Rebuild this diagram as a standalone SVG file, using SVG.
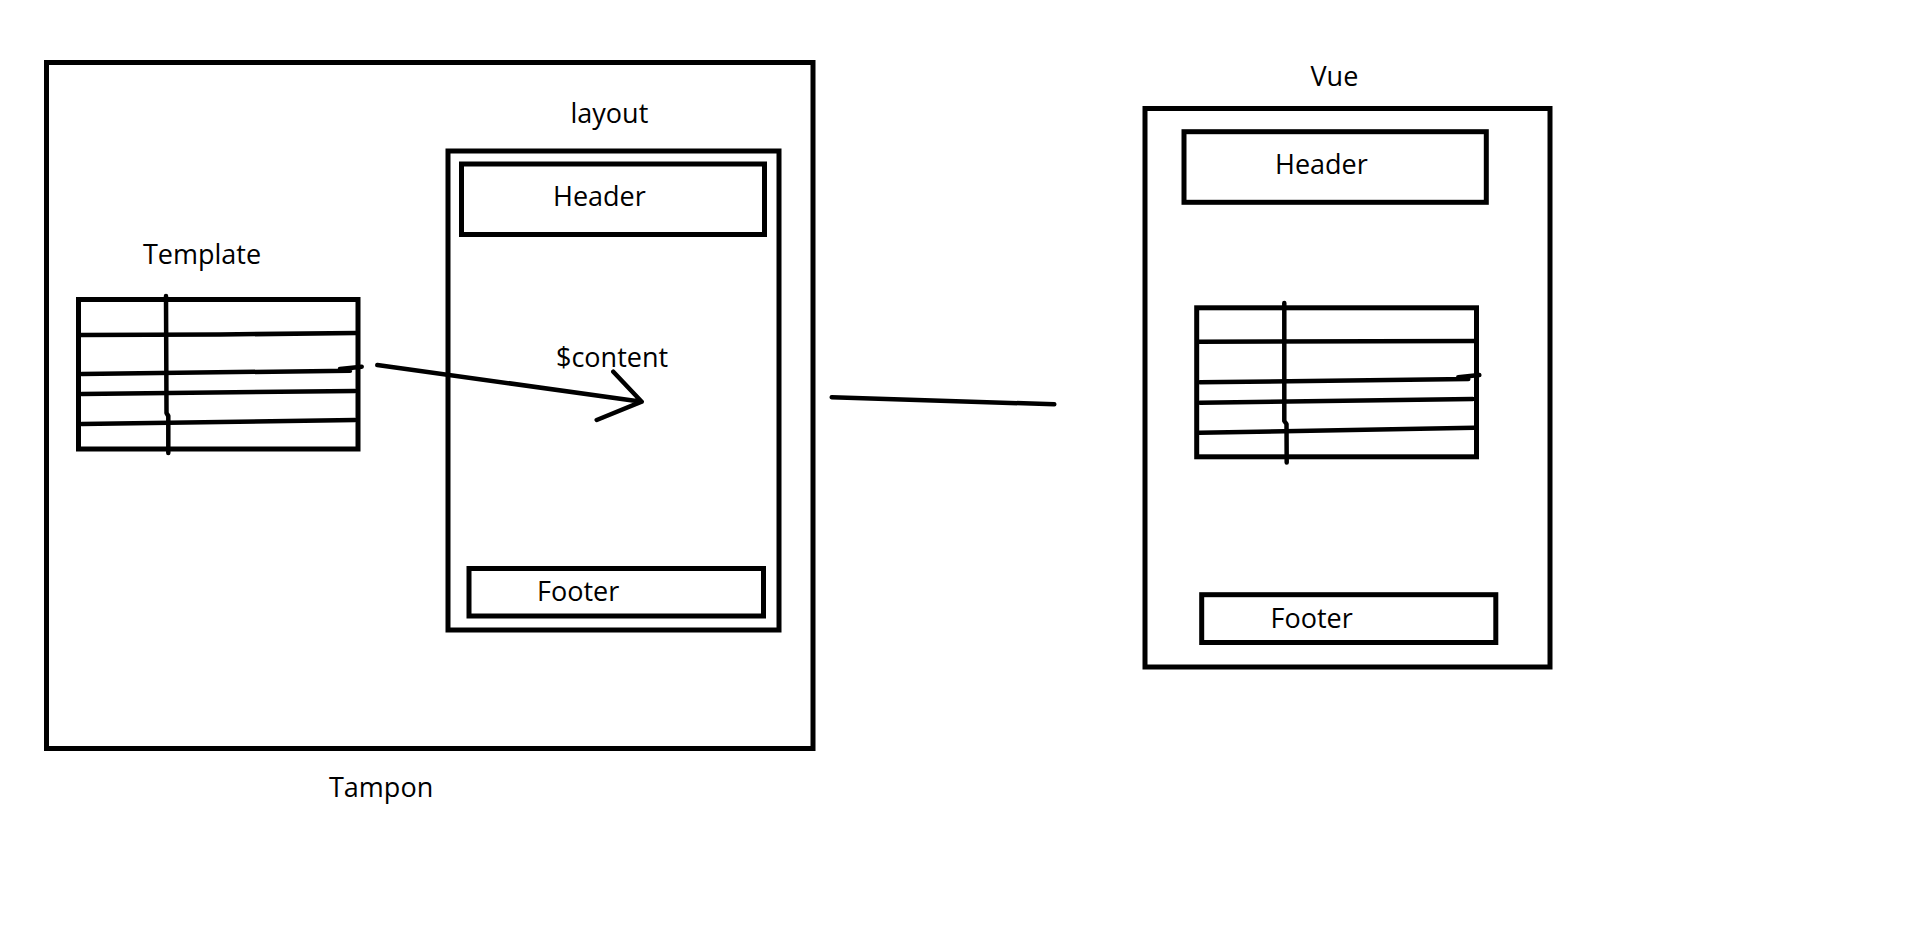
<svg xmlns="http://www.w3.org/2000/svg" width="1912" height="933" viewBox="0 0 1912 933">
  <style>
    .box { fill: none; stroke: #000; stroke-width: 5; }
    .hand { fill: none; stroke: #000; stroke-width: 4.5; stroke-linecap: round; stroke-linejoin: round; }
    .lbl { font-family: "Open Sans", "Noto Sans", "Liberation Sans", sans-serif; font-size: 27px; fill: #000; }
  </style>
  <rect width="1912" height="933" fill="#fff"/>

  <g id="tampon">
    <rect class="box" x="46.5" y="62.5" width="766.5" height="686"/>
    <text class="lbl" x="329" y="797">Tampon</text>
  </g>

  <g id="template">
    <text class="lbl" x="143" y="264">Template</text>
    <rect class="box" x="78.5" y="299.5" width="279.5" height="149.5"/>
    <path class="hand" d="M166 296 L166.5 413 L168.3 416 L168.3 453"/>
    <path class="hand" d="M80 335 L220 334.5 L356 333"/>
    <path class="hand" d="M81.7 374 L350 370.7 M340 369 L361.7 366.7"/>
    <path class="hand" d="M81.7 394 L355 391"/>
    <path class="hand" d="M81.7 424 L355 420"/>
  </g>

  <g id="layout">
    <text class="lbl" x="570.5" y="123">layout</text>
    <rect class="box" x="448" y="151" width="331" height="479"/>
    <g id="layout-header">
      <rect class="box" x="461.5" y="164" width="303" height="70.5"/>
      <text class="lbl" x="553" y="206">Header</text>
    </g>
    <text class="lbl" x="556" y="366.5">$content</text>
    <g id="layout-footer">
      <rect class="box" x="469" y="568.5" width="294.5" height="47.5"/>
      <text class="lbl" x="537" y="601">Footer</text>
    </g>
  </g>

  <g id="vue">
    <text class="lbl" x="1310.5" y="85.5">Vue</text>
    <rect class="box" x="1145" y="108.5" width="405" height="558.5"/>
    <g id="vue-header">
      <rect class="box" x="1184" y="131.7" width="302.3" height="70.6"/>
      <text class="lbl" x="1275" y="174">Header</text>
    </g>
    <g id="vue-table">
      <rect class="box" x="1196.7" y="307.8" width="279.8" height="149"/>
      <path class="hand" d="M1284.3 303 L1284.3 421 L1286.5 424 L1286.7 462.5"/>
      <path class="hand" d="M1198 341.7 L1476 341"/>
      <path class="hand" d="M1200 382.3 L1468.3 379 M1458.3 377.3 L1479.3 375"/>
      <path class="hand" d="M1200 402.7 L1472.7 399"/>
      <path class="hand" d="M1199.3 432.7 L1474 427.7"/>
    </g>
    <g id="vue-footer">
      <rect class="box" x="1201.7" y="594.7" width="294.1" height="47.8"/>
      <text class="lbl" x="1270.5" y="627.5">Footer</text>
    </g>
  </g>

  <g id="connectors">
    <path class="hand" d="M377.3 365 L641.7 401.7 M613.3 371.7 L641.7 401.7 L596.7 420"/>
    <path class="hand" d="M831.7 397.3 L1054.3 404.3"/>
  </g>
</svg>
